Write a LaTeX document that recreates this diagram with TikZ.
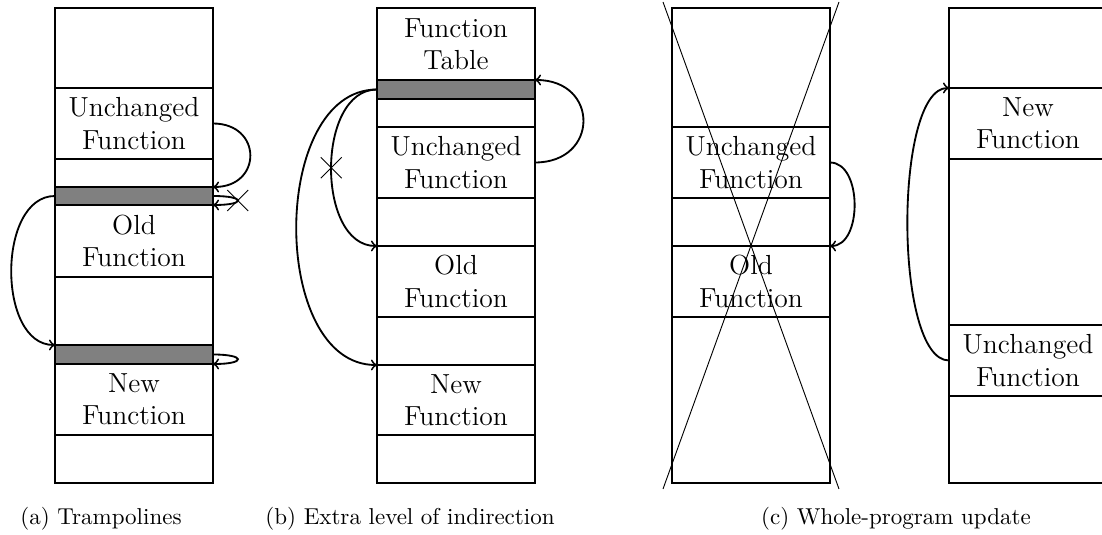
\documentclass[tikz,border=0pt]{standalone}
\usetikzlibrary{shapes.misc}

% one drawing unit
\newlength\pxu
\setlength\pxu{0.435pt}

\tikzset{
  cellbox/.style={draw, line width=0.8pt, inner sep=0pt, outer sep=0pt,
    minimum width=158*\pxu, anchor=north west, align=center, font=\large},
  tramp/.style={cellbox, fill=gray},
  link/.style={->, line width=0.8pt},
  crossx/.style={draw, cross out, line width=0.4pt, minimum size=20*\pxu, inner sep=0pt},
  strike/.style={line width=0.4pt},
  caption/.style={anchor=base, font=\normalsize}
}

% \mkcell[style]{name}{x}{top}{bottom}{text}
\newcommand\mkcell[6][cellbox]{%
  \node[#1, minimum height={(#5-#4)*\pxu}] (#2) at (#3,#4) {#6};}

\begin{document}
\begin{tikzpicture}[x=\pxu, y=-\pxu]
  \useasboundingbox (0,0) rectangle (1102,535);
  \clip (0,0) rectangle (1102,535);

  % (a) trampolines
  \mkcell{a0}{55}{8}{88}{}
  \mkcell{aunc}{55}{88}{159}{Unchanged\\Function}
  \mkcell{a2}{55}{159}{187}{}
  \mkcell[tramp]{atr1}{55}{187}{205}{}
  \mkcell{aold}{55}{205}{277}{Old\\Function}
  \mkcell{a5}{55}{277}{345}{}
  \mkcell[tramp]{atr2}{55}{345}{364}{}
  \mkcell{anew}{55}{364}{435}{New\\Function}
  \mkcell{a8}{55}{435}{483}{}

  \draw[link] (aunc.east) to[out=0, in=0, looseness=2] (atr1.north east);
  \draw[link] (atr1.east) .. controls +(33,0) and +(33,0) .. (aold.north east)
    node[pos=0.5, crossx] {};
  \draw[link] (atr1.west) to[out=180, in=180] (atr2.north west);
  \draw[link] (atr2.east) .. controls +(33,0) and +(33,0) .. (anew.north east);

  % (b) extra level of indirection
  \mkcell{bft}{377}{8}{80}{Function\\Table}
  \mkcell[tramp]{btr}{377}{80}{99}{}
  \mkcell{b2}{377}{99}{127}{}
  \mkcell{bunc}{377}{127}{198}{Unchanged\\Function}
  \mkcell{b4}{377}{198}{246}{}
  \mkcell{bold}{377}{246}{317}{Old\\Function}
  \mkcell{b6}{377}{317}{365}{}
  \mkcell{bnew}{377}{365}{435}{New\\Function}
  \mkcell{b8}{377}{435}{483}{}

  \draw[link] (bunc.east) to[out=0, in=0, looseness=2] (btr.north east);
  \draw[link] (btr.west) to[out=180, in=180] node[crossx] {} (bold.north west);
  \draw[link] (btr.west) to[out=180, in=180] (bnew.north west);

  % (c) whole-program update: old image
  \mkcell{c0}{672}{8}{127}{}
  \mkcell{cunc}{672}{127}{198}{Unchanged\\Function}
  \mkcell{c2}{672}{198}{246}{}
  \mkcell{cold}{672}{246}{317}{Old\\Function}
  \mkcell{c4}{672}{317}{483}{}

  \draw[link] (cunc.east) to[out=0, in=0] (cold.north east);

  \coordinate (xa) at (663,2);
  \coordinate (xb) at (839,489);
  \coordinate (xc) at (839,2);
  \coordinate (xd) at (663,489);
  \draw[strike] (xa) -- (xb);
  \draw[strike] (xc) -- (xd);

  % (c) whole-program update: new image
  \mkcell{d0}{949}{8}{88}{}
  \mkcell{dnew}{949}{88}{159}{New\\Function}
  \mkcell{d2}{949}{159}{325}{}
  \mkcell{dunc}{949}{325}{396}{Unchanged\\Function}
  \mkcell{d4}{949}{396}{483}{}

  \draw[link] (dunc.west) to[out=180, in=180, looseness=0.52] (dnew.north west);

  % captions
  \node[caption] (capa) at (101,525) {(a) Trampolines};
  \node[caption] (capb) at (410,525) {(b) Extra level of indirection};
  \node[caption] (capc) at (896,525) {(c) Whole-program update};
\end{tikzpicture}
\end{document}
